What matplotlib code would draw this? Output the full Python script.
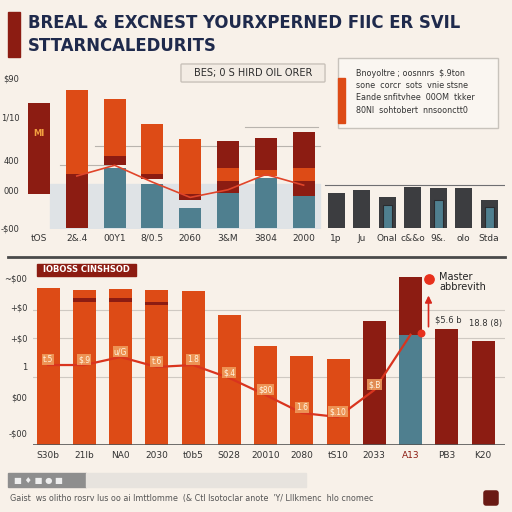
"""Two stacked bar panels in a cream infographic style."""
import numpy as np
import matplotlib.pyplot as plt
from matplotlib.patches import Rectangle, FancyBboxPatch

BG = "#f8f1e9"
ORANGE = "#dd4b16"
DARKRED = "#8c1c12"
TEAL = "#4f7f8f"
GREY = "#3c3d40"
NAVY = "#1f2a4c"

# top panel data
top_labels = ["tOS", "2&.4", "00Y1", "8/0.5", "2060", "3&M", "3804", "2000"]
top_teal = [0, 0, 39, 29, 13, 23, 33, 21]
top_gap = [22, 0, 2, 3, 5, 0, 1, 0]
top_band = [0, 35, 6, 3, 4, 8, 0, 10]
top_orange = [0, 55, 37, 33, 36, 8, 4, 8]
top_cap = [60, 0, 0, 0, 0, 18, 21, 24]
top_trend = [34, 41, 30, 20, 25, 35, 28]

grey_labels = ["1p", "Ju", "Onal", "c&&o", "9&.", "olo", "Stda"]
grey_vals = [23, 25, 20, 27, 26, 26, 18]
grey_inner = [0, 0, 15, 0, 18, 0, 14]

top_yticks = [0, 24.2, 44.4, 72.5, 98]
top_ylabels = ["-$00", "000", "400", "1/10", "$90"]

# bottom panel data
bot_labels = ["S30b", "21Ib", "NA0", "2030", "t0b5", "S028", "20010",
              "2080", "tS10", "2033", "A13", "PB3", "K20"]
bot_vals = [89.7, 88.6, 89.1, 88.6, 88.0, 74.3, 56.6, 50.9, 49.1,
            70.9, 96.0, 66.3, 59.4]
bot_band = [0, 82, 82, 80, 0, 0, 0, 0, 0, 0, 0, 0, 0]
bot_teal = [0, 0, 0, 0, 0, 0, 0, 0, 0, 0, 62.9, 0, 0]
bot_line = [45.7, 45.7, 50.3, 44.6, 45.7, 38.3, 28.6, 18.3, 16.0, 31.4, 63.0]
line_tags = ["t.5", "$.9", "u/G", "t.6", "1.8", "$.4", "$80", "1.6", "$.10", "$.B", ""]

bot_yticks = [6.9, 27.4, 44.6, 61.1, 78.9, 95.4]
bot_ylabels = ["-$00", "$00", "1", "+$0", "+$0", "~$00"]

legend_lines = ["Bnoyoltre ; oosnnrs  $.9ton",
                "sone  corcr  sots  vnie stsne",
                "Eande snfitvhee  00OM  tkker",
                "80NI  sohtobert  nnsoonctt0"]

fig = plt.figure(figsize=(5.12, 5.12), dpi=100)
fig.patch.set_facecolor(BG)


def fy(y):
    return 1 - y / 512


# title
fig.patches.append(Rectangle((8 / 512, fy(57)), 12 / 512, 45 / 512,
                             transform=fig.transFigure, color=DARKRED))
fig.text(28 / 512, fy(23), "BREAL & EXCNEST YOURXPERNED FIIC ER SVIL",
         fontsize=11.9, fontweight="bold", color=NAVY, va="center")
fig.text(28 / 512, fy(46), "STTARNCALEDURITS",
         fontsize=11.9, fontweight="bold", color=NAVY, va="center")

# ---- top panel
ax1 = fig.add_axes([25 / 512, fy(228), 480 / 512, 153 / 512])
ax1.set_facecolor("none")
ax1.set_xlim(25, 505)
ax1.set_ylim(0, 100)
x1 = 39 + 37.8 * np.arange(len(top_labels))
ax1.fill_between([50, 320], 0, 29, color="#dfe3e6", zorder=0)
for yv, a, b in [(66, 245, 318), (53.6, 95, 320), (41, 60, 110)]:
    ax1.plot([a, b], [yv, yv], color="#b9b4ae", lw=0.8, zorder=0.5)
bottom = np.zeros(len(x1))
for vals, col in [(top_teal, TEAL), (top_gap, "none"), (top_band, DARKRED),
                  (top_orange, ORANGE), (top_cap, DARKRED)]:
    ax1.bar(x1, vals, 22, bottom=bottom, color=col, zorder=2)
    bottom += np.array(vals)
ax1.plot(x1[1:], top_trend, color="#e0452a", lw=1.2, zorder=3)
ax1.text(x1[0], 60, "MI", color="#f2a040", fontsize=6, ha="center",
         fontweight="bold", zorder=4)

x1g = 336 + 25.5 * np.arange(len(grey_labels))
ax1.bar(x1g, grey_vals, 17, color=GREY, zorder=2)
ax1.bar(x1g, grey_inner, 9, color=TEAL, edgecolor="#2a2c30", lw=0.8, zorder=3)
ax1.plot([325, 505], [28, 28], color="#6f6f72", lw=0.8, zorder=1)

ax1.set_xticks(np.concatenate([x1, x1g]))
ax1.set_xticklabels(top_labels + grey_labels, fontsize=6.5, color="#333333")
ax1.set_yticks(top_yticks)
ax1.set_yticklabels(top_ylabels, fontsize=6, color="#333333")
ax1.tick_params(length=0, pad=4)
for s in ax1.spines.values():
    s.set_visible(False)

# subtitle pill and legend box
fig.patches.append(FancyBboxPatch((182 / 512, fy(81)), 142 / 512, 16 / 512,
                   boxstyle="round,pad=0.002", transform=fig.transFigure,
                   facecolor="#f3ece4", edgecolor="#c9c2ba", lw=1))
fig.text(253 / 512, fy(73), "BES; 0 S HIRD OIL ORER", fontsize=7,
         color="#2d2d2d", ha="center", va="center")
fig.patches.append(Rectangle((338 / 512, fy(128)), 160 / 512, 70 / 512,
                   transform=fig.transFigure, facecolor="#faf6f1",
                   edgecolor="#c8c3bc", lw=1))
fig.patches.append(Rectangle((338 / 512, fy(123)), 7 / 512, 45 / 512,
                   transform=fig.transFigure, color=ORANGE))
for i, line in enumerate(legend_lines):
    fig.text(356 / 512, fy(73 + 12.5 * i), line, fontsize=5.8,
             color="#333333", va="center")

# divider
fig.lines.append(plt.Line2D([8 / 512, 505 / 512], [fy(257), fy(257)],
                 transform=fig.transFigure, color="#4a4a4a", lw=2))

# ---- bottom panel
ax2 = fig.add_axes([33 / 512, fy(445), 472 / 512, 175 / 512])
ax2.set_facecolor("none")
ax2.set_xlim(33, 505)
ax2.set_ylim(0, 100)
x2 = 48 + 36.25 * np.arange(len(bot_labels))
for yv in [77, 61, 39]:
    ax2.axhline(yv, color="#cfc9c2", lw=0.8, zorder=0)
cols = [ORANGE] * 9 + [DARKRED] * 4
ax2.bar(x2, bot_vals, 23, color=cols, zorder=2)
for xi, b in zip(x2, bot_band):
    if b:
        ax2.bar(xi, 2, 23, bottom=b, color=DARKRED, zorder=2.5)
ax2.bar(x2, bot_teal, 23, color=TEAL, zorder=2.6)
xl = x2[:len(bot_line)]
ax2.plot(xl, bot_line, color="#d9341e", lw=1.6, zorder=3)
for xi, yv, t in zip(xl, bot_line, line_tags):
    if t:
        ax2.text(xi, yv + 3, t, fontsize=5.5, color="#fff4e0", ha="center",
                 va="center", zorder=4,
                 bbox=dict(boxstyle="square,pad=0.15", fc="#f0a060",
                           ec="none", alpha=0.85))
ax2.scatter([x2[10] + 10], [64], s=22, color="#e8301c", zorder=5)
ax2.annotate("", xy=(x2[10] + 18, 87), xytext=(x2[10] + 18, 66),
             arrowprops=dict(arrowstyle="-|>", color="#d8261c", lw=1.2),
             zorder=5)
ax2.scatter([x2[10] + 18], [95], s=45, color="#e8301c", zorder=5)
ax2.text(x2[10] + 29, 93, "Master\nabbrevith", fontsize=7, color="#222222",
         va="center", linespacing=1.0, zorder=5)
ax2.text(x2[11] - 12, 70, "$5.6 b", fontsize=6, color="#333333", zorder=5)
ax2.text(x2[12] + 3, 68, "18.8 (8)", fontsize=6, color="#333333",
         ha="center", zorder=5)
ax2.axhline(0, color="#555555", lw=1.2, zorder=3)

ax2.set_xticks(x2)
ax2.set_xticklabels(bot_labels, fontsize=6.5, color="#333333")
ax2.get_xticklabels()[10].set_color(DARKRED)
ax2.set_yticks(bot_yticks)
ax2.set_yticklabels(bot_ylabels, fontsize=6, color="#333333")
ax2.tick_params(length=0, pad=4)
for s in ax2.spines.values():
    s.set_visible(False)

fig.patches.append(Rectangle((37 / 512, fy(276)), 99 / 512, 12 / 512,
                   transform=fig.transFigure, color=DARKRED))
fig.text(86 / 512, fy(270), "IOBOSS CINSHSOD", fontsize=6, color="white",
         ha="center", va="center", fontweight="bold")

# footer
fig.patches.append(Rectangle((8 / 512, fy(487)), 78 / 512, 14 / 512,
                   transform=fig.transFigure, color="#8e8e8e"))
fig.patches.append(Rectangle((86 / 512, fy(487)), 220 / 512, 14 / 512,
                   transform=fig.transFigure, color="#e7e3de"))
fig.text(14 / 512, fy(480), "\u25a0 \u2666 \u25a0 \u25cf \u25a0", fontsize=6,
         color="#eeeeee", va="center")
fig.text(10 / 512, fy(498),
         "Gaist  ws olitho rosrv lus oo ai lmttlomme  (& Ctl lsotoclar "
         "anote  'Y/ Lllkmenc  hlo cnomec",
         fontsize=5.8, color="#555555", va="center")
fig.patches.append(FancyBboxPatch((486 / 512, fy(503)), 10 / 512, 10 / 512,
                   boxstyle="round,pad=0.004", transform=fig.transFigure,
                   color="#6a1a14"))

fig.savefig("out.png", dpi=100, facecolor=BG)
